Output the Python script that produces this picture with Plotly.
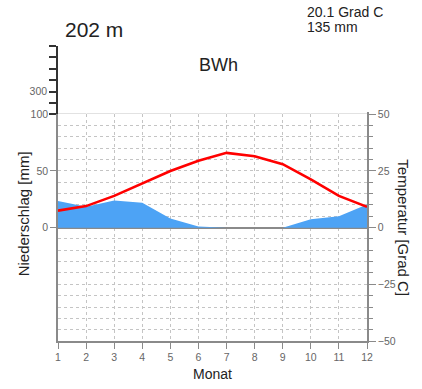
import plotly.graph_objects as go

months = list(range(1, 13))
precip_mm = [23.5, 18.5, 24, 22, 8, 1, 0, 0, 0, 7.5, 10, 20.5]
temp_c = [7.5, 9.5, 14, 19.5, 25, 29.5, 33, 31.5, 28, 21.3, 14, 9.2]
temp_ticks = [-50, -25, 0, 25, 50]
precip_ticks = [0, 50, 100]
upper_ticks = [100, 200, 300, 400, 500, 600, 700]
upper_labels = ["", "", "300", "", "", "", ""]

W, H = 422, 389
# target page pixels of the main box
X0, X1, Y_TOP, Y_BOT = 57.7, 367.3, 46, 341
L = X0
R = W - X1
T = Y_TOP
B = H - Y_BOT
PW, PH = W - L - R, H - T - B
box_h = 226.7
d = box_h / PH


def px(x):
    return (x - L) / PW


def py(y):
    return (H - B - y) / PH


FONT = "Liberation Sans"
GRID = "#c4c4c4"
AX = "#8a8a8a"
TICKF = dict(family=FONT, size=10.5, color="#666666")

fig = go.Figure()
fig.add_trace(go.Scatter(
    x=months, y=precip_mm, mode="lines", fill="tozeroy",
    fillcolor="#4da3f5", line=dict(width=0, color="#4da3f5"),
    xaxis="x", yaxis="y", showlegend=False, hoverinfo="skip"))
fig.add_trace(go.Scatter(
    x=months, y=temp_c, mode="lines",
    line=dict(color="#ff0000", width=2.6),
    xaxis="x", yaxis="y2", showlegend=False))
# invisible trace so that the compressed upper precipitation axis is drawn
fig.add_trace(go.Scatter(
    x=[months[0]], y=[upper_ticks[0]], mode="markers", marker=dict(opacity=0),
    xaxis="x", yaxis="y3", showlegend=False, hoverinfo="skip"))

fig.update_layout(
    width=W, height=H,
    margin=dict(l=L, r=R, t=T, b=B, autoexpand=False),
    paper_bgcolor="white", plot_bgcolor="white",
    font=dict(family=FONT),
    xaxis=dict(
        range=[1, 12], domain=[0, 1], anchor="y", automargin=False,
        tickvals=months, ticks="outside", ticklen=6, tickcolor=AX,
        tickfont=TICKF, showline=True, linecolor=AX, linewidth=1.5,
        mirror=True, showgrid=True, gridcolor=GRID, griddash="dot",
        gridwidth=1, zeroline=False, fixedrange=True),
    yaxis=dict(
        domain=[0, d], range=[-100, 100], anchor="x", automargin=False,
        tickvals=precip_ticks, ticks="outside", ticklen=6, tickcolor=AX,
        tickfont=TICKF, showline=True, linecolor=AX, linewidth=1.5,
        showgrid=True, gridcolor=GRID, griddash="dot",
        minor=dict(dtick=10, tick0=0, showgrid=True, gridcolor=GRID,
                   griddash="dot", ticks=""),
        zeroline=True, zerolinecolor=AX, zerolinewidth=1.5),
    yaxis2=dict(
        overlaying="y", side="right", anchor="x", range=[-50, 50],
        automargin=False,
        tickvals=temp_ticks, ticks="outside", ticklen=7, tickcolor=AX,
        tickfont=TICKF, showline=True, linecolor=AX, linewidth=1.5,
        showgrid=False, zeroline=False,
        minor=dict(dtick=5, tick0=0, ticks="outside", ticklen=4,
                   tickcolor=AX, showgrid=False)),
    yaxis3=dict(
        domain=[d, 1], range=[100, 700], anchor="x", side="left",
        automargin=False,
        tickvals=upper_ticks, ticktext=upper_labels, ticks="outside",
        ticklen=7, tickwidth=1.5, tickcolor="#333333", tickfont=TICKF,
        showline=True, linecolor="#333333", linewidth=1.5,
        showgrid=False, zeroline=False),
    # hide the vertical grid above the main box (it belongs to the box only)
    shapes=[dict(type="rect", xref="x", yref="y3", x0=1, x1=12.2,
                 y0=104, y1=700, fillcolor="white",
                 line=dict(width=0), layer="between")],
)

ann = [
    dict(text="202 m", x=px(63), y=py(30), xanchor="left", yanchor="middle",
         font=dict(size=21, color="#222222")),
    dict(text="BWh", x=px(219), y=py(65), xanchor="center", yanchor="middle",
         font=dict(size=18, color="#222222")),
    dict(text="20.1 Grad C", x=px(305), y=py(12), xanchor="left", yanchor="middle",
         font=dict(size=14, color="#222222")),
    dict(text="135 mm", x=px(305), y=py(27), xanchor="left", yanchor="middle",
         font=dict(size=14, color="#222222")),
    dict(text="Niederschlag [mm]", x=px(23), y=py(214), xanchor="center",
         yanchor="middle", textangle=-90, font=dict(size=15, color="#222222")),
    dict(text="Temperatur [Grad C]", x=px(404), y=py(228), xanchor="center",
         yanchor="middle", textangle=90, font=dict(size=15, color="#222222")),
    dict(text="Monat", x=px(212), y=py(374), xanchor="center", yanchor="middle",
         font=dict(size=14, color="#222222")),
]
for a in ann:
    a.update(xref="paper", yref="paper", showarrow=False)
fig.update_layout(annotations=ann)

fig.write_html("out.html",
               config={"displayModeBar": False},
               post_script="document.body.style.margin='0';"
                           "document.body.style.overflow='hidden';")
